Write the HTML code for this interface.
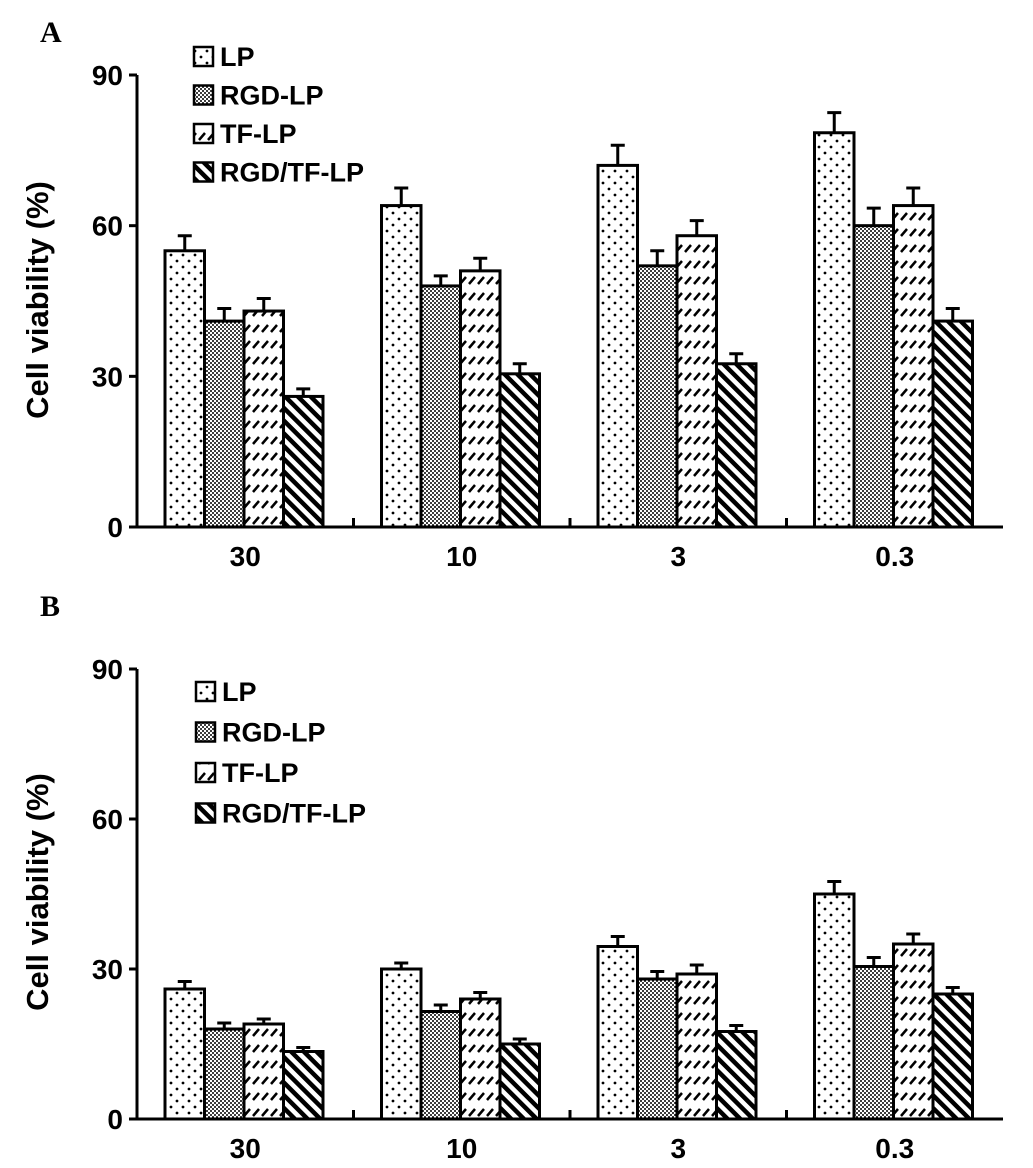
<!DOCTYPE html>
<html><head><meta charset="utf-8"><style>
body{margin:0;background:#fff;}
svg text{font-family:"Liberation Sans",Arial,sans-serif;font-weight:bold;fill:#000;}
</style></head><body>
<svg id="c" width="1033" height="1163" xmlns="http://www.w3.org/2000/svg">
<defs>
<pattern id="pDots" width="12" height="12" patternUnits="userSpaceOnUse"><rect width="12" height="12" fill="#fff"/><circle cx="3" cy="3" r="1.4" fill="#000"/><circle cx="9" cy="9" r="1.4" fill="#000"/></pattern>
<pattern id="pFine" width="4" height="4" patternUnits="userSpaceOnUse"><rect width="4" height="4" fill="#fff"/><circle cx="1" cy="1" r="1" fill="#000"/><circle cx="3" cy="3" r="1" fill="#000"/></pattern>
<pattern id="pDash" width="9" height="16" patternUnits="userSpaceOnUse"><rect width="9" height="16" fill="#fff"/><line x1="1" y1="12" x2="7" y2="5" stroke="#000" stroke-width="2.5"/></pattern>
<pattern id="pStripe" width="9" height="9" patternUnits="userSpaceOnUse" patternTransform="rotate(-45)"><rect width="9" height="9" fill="#fff"/><rect x="0" y="0" width="4.5" height="9" fill="#000"/></pattern>
</defs>
<text x="40" y="42" style="font-family:'Liberation Serif',serif;font-size:30px">A</text>
<text x="40" y="616" style="font-family:'Liberation Serif',serif;font-size:30px">B</text>
</svg>
<script>
const categories=["30","10","3","0.3"];
const seriesNames=["LP","RGD-LP","TF-LP","RGD/TF-LP"];
const aLP=[55,64,72,78.5],aRGD=[41,48,52,60],aTF=[43,51,58,64],aRT=[26,30.5,32.5,41];
const aErrLP=[3,3.5,4,4],aErrRGD=[2.5,2,3,3.5],aErrTF=[2.5,2.5,3,3.5],aErrRT=[1.5,2,2,2.5];
const bLP=[26,30,34.5,45],bRGD=[18,21.5,28,30.5],bTF=[19,24,29,35],bRT=[13.5,15,17.5,25];
const bErrLP=[1.5,1.2,2,2.5],bErrRGD=[1.2,1.3,1.5,1.8],bErrTF=[1,1.3,1.8,2],bErrRT=[0.8,1,1.2,1.3];
const yTicks=[0,30,60,90];
const fills=["url(#pDots)","url(#pFine)","url(#pDash)","url(#pStripe)"];
const NS="http://www.w3.org/2000/svg";
const svg=document.getElementById('c');
function mk(t,a,p){const e=document.createElementNS(NS,t);for(const k in a)e.setAttribute(k,a[k]);(p||svg).appendChild(e);return e;}
function panel(id,top,bottom,series,errs,legX,legY,legGap,titleY){
  const g=mk('g',{});
  
  
  const x0=137,x1=1003,gw=(x1-x0)/categories.length;
  const y=v=>bottom-(bottom-top)*v/90;
  const xb=(ci,si)=>x0+ci*gw+28+si*39.5;
  series.forEach((s,si)=>s.forEach((v,ci)=>{
    const r=mk('rect',{x:xb(ci,si),y:y(v),width:39.5,height:bottom-y(v),fill:fills[si],stroke:'#000','stroke-width':3},g);
    
    
    const cx=xb(ci,si)+19.75,ye=y(v+errs[si][ci]);
    const e=mk('path',{d:`M${cx},${y(v)}V${ye}M${cx-7},${ye}H${cx+7}`,stroke:'#000','stroke-width':3,fill:'none'},g);
    
    
  }));
  const ax=mk('path',{d:`M${x0},${top}V${bottom}H${x1}`,stroke:'#000','stroke-width':3,fill:'none'},g);
  
  
  yTicks.forEach(t=>{
    mk('path',{d:`M${x0-8},${y(t)}H${x0}`,stroke:'#000','stroke-width':3},g);
    const tx=mk('text',{x:x0-14,y:y(t)+10,'text-anchor':'end','font-size':28},g);tx.textContent=t;
    
    
  });
  categories.forEach((c,ci)=>{
    if(ci>0)mk('path',{d:`M${x0+ci*gw},${bottom}V${bottom-9}`,stroke:'#000','stroke-width':3},g);
    const tx=mk('text',{x:x0+ci*gw+gw/2,y:bottom+39,'text-anchor':'middle','font-size':28},g);tx.textContent=c;
    
    
  });
  const tt=mk('text',{x:0,y:0,'text-anchor':'middle','font-size':31,transform:`translate(48,${titleY}) rotate(-90)`},g);tt.textContent='Cell viability (%)';
  
  
  seriesNames.forEach((n,i)=>{
    const ly=legY+i*legGap;
    const b=mk('rect',{x:legX,y:ly-9,width:19,height:19,fill:fills[i],stroke:'#000','stroke-width':2.5},g);
    
    
    const t=mk('text',{x:legX+26,y:ly+10,'font-size':27},g);t.textContent=n;
    
    
  });
}
panel('panel-a-chart',75,527,[aLP,aRGD,aTF,aRT],[aErrLP,aErrRGD,aErrTF,aErrRT],194,56,38.5,300);
panel('panel-b-chart',669,1119,[bLP,bRGD,bTF,bRT],[bErrLP,bErrRGD,bErrTF,bErrRT],196,691,40.5,892);
</script>
</body></html>
